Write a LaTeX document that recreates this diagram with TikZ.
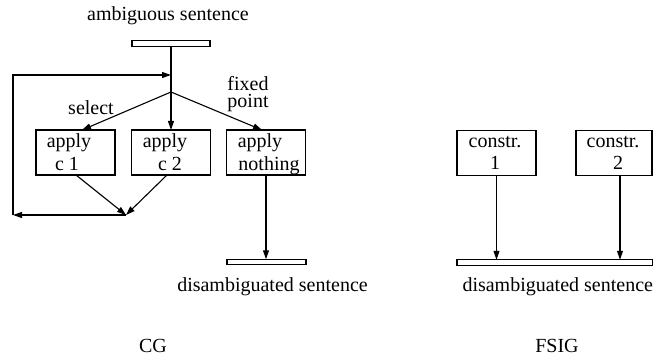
\documentclass[tikz,border=0pt]{standalone}
\usepackage{fontspec}
\setmainfont{Liberation Serif}
\usetikzlibrary{arrows.meta}
\begin{document}
\begin{tikzpicture}[x=1pt,y=-1pt,
  every node/.style={font=\fontsize{20}{24}\selectfont, inner sep=0pt, outer sep=0pt},
  line/.style={line width=1.1pt},
  arr/.style={line, -{Triangle[length=9pt,width=6pt]}},
  box/.style={draw, line width=1.1pt, minimum width=79pt, minimum height=45pt},
  bar/.style={draw, line width=1.1pt, minimum height=5.5pt},
  txt/.style={anchor=base},
]
\useasboundingbox (0,0) rectangle (653,358);

% ---- CG ----
\node[txt] (ambig) at (168,21) {ambiguous sentence};
\node[bar, minimum width=78pt] (inbar) at (171,43.5) {};

\node[box] (a1) at (75.5,152.5) {};
\node[box] (a2) at (171,152.5) {};
\node[box] (a3) at (266,152.5) {};
\node[txt] (a1t) at (69,148) {apply};
\node[txt] (a1b) at (67,170.5) {c 1};
\node[txt] (a2t) at (165,148) {apply};
\node[txt] (a2b) at (170,170.5) {c 2};
\node[txt] (a3t) at (260,148) {apply};
\node[txt] (a3b) at (269,170.5) {nothing};

\node[txt] (sel) at (91,114.5) {select};
% base anchor of a two-line node sits on the last line
\node[txt, align=center, font=\fontsize{20}{17}\selectfont] (fx) at (248,108) {fixed\\point};

\node[bar, minimum width=79pt] (outbar) at (266.5,262) {};
\node[txt] (outtxt) at (272.5,291) {disambiguated sentence};
\node[txt] (cg) at (153,352) {CG};

\coordinate (loopin) at (171,75);
\coordinate (split) at (171,92);
\coordinate (merge) at (126,215);
\coordinate (cornbl) at (13,215);
\coordinate (corntl) at (13,75);

\draw[arr] (inbar.south) -- (a2.north);
\draw[arr] (split) -- ([xshift=6.5pt]a1.north);
\draw[arr] (split) -- ([xshift=-4pt]a3.north);
\draw[arr] ([xshift=0.5pt]a1.south) -- (merge);
\draw[arr] ([xshift=-4pt]a2.south) -- (merge);
\draw[arr] (merge) -- (cornbl);
\draw[arr] (cornbl) -- (corntl) -- (loopin);
\draw[arr] (a3.south) -- (a3.south |- outbar.north);

% ---- FSIG ----
\node[box] (c1) at (496.5,153) {};
\node[box, minimum width=76pt] (c2) at (614,153) {};
\node[txt] (c1t) at (495,147.5) {constr.};
\node[txt] (c1b) at (495,170) {1};
\node[txt] (c2t) at (613,147.5) {constr.};
\node[txt] (c2b) at (618,170) {2};

\node[bar, minimum width=196pt] (rbar) at (555,262.5) {};
\node[txt, anchor=base west] (rtxt) at (462.5,291) {disambiguated sentence};
\node[txt] (fsig) at (557,352) {FSIG};

\draw[arr] (c1.south) -- (c1.south |- rbar.north);
\draw[arr] ([xshift=6pt]c2.south) -- ([xshift=6pt]c2.south |- rbar.north);
\end{tikzpicture}
\end{document}
